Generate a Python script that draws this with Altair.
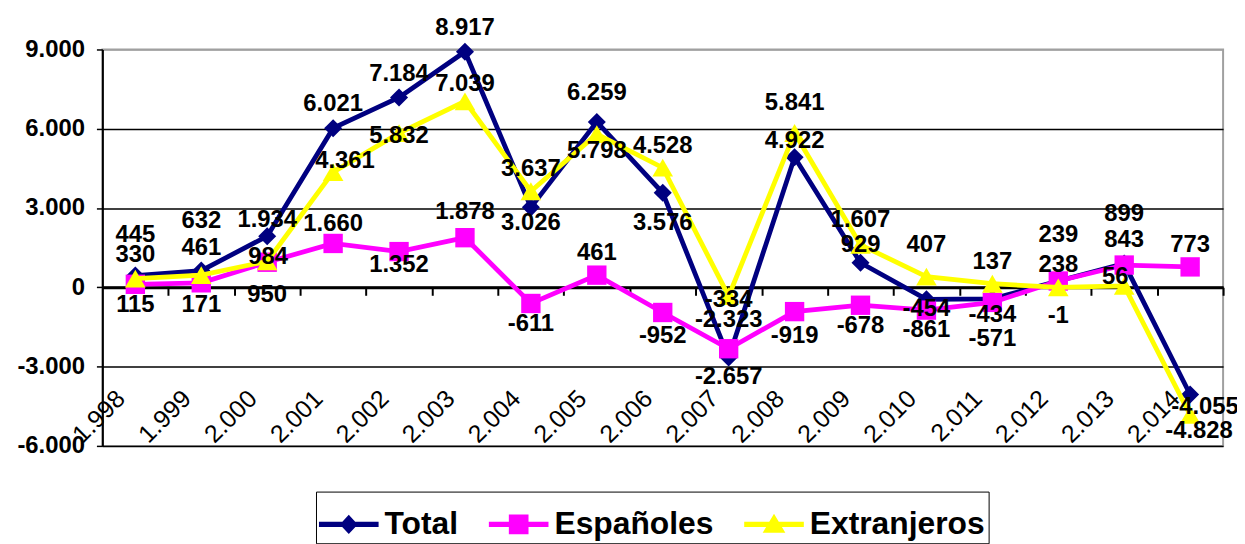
import altair as alt
import pandas as pd

# ---- data ----
anios = ["1.998", "1.999", "2.000", "2.001", "2.002", "2.003", "2.004", "2.005", "2.006",
         "2.007", "2.008", "2.009", "2.010", "2.011", "2.012", "2.013", "2.014"]
series = ["Total", "Españoles", "Extranjeros"]
total = [445, 632, 1934, 6021, 7184, 8917, 3026, 6259, 3576, -2657, 4922, 929, -454, -434, 238, 899, -4055]
espanoles = [115, 171, 950, 1660, 1352, 1878, -611, 461, -952, -2323, -919, -678, -861, -571, 239, 843, 773]
extranjeros = [330, 461, 984, 4361, 5832, 7039, 3637, 5798, 4528, -334, 5841, 1607, 407, 137, -1, 56, -4828]
y_ticks = [-6000, -3000, 0, 3000, 6000, 9000]

# ---- layout of the value labels (pixel offsets from each point) ----
lab_dy = {
    "Total":       [-41, -50, -16, -24, -24, -24, 16, -29, 30, 20, -16, -18, 10, 16, -16, -50, 13],
    "Españoles":   [21, 22, 33, -20, 14, -26, 21, -22, 24, -29, 25, 21, 20, 37, -46, -25, -22],
    "Extranjeros": [-24, -27, -4, -11, 3, -17, -22, 17, -22, 4, -30, -25, -32, -22, 29, -9, 16],
}
lab_dx = {
    "Total":       [0] * 16 + [15],
    "Españoles":   [0] * 17,
    "Extranjeros": [0, 0, 1, 12, 0, 0, 0, 0, 0, 0, 0, 0, 0, 0, 0, -9, 9],
}

colors = ["#000080", "#FF00FF", "#FFFF00"]
marker = {"Total": ("diamond", 330), "Españoles": ("square", 380), "Extranjeros": ("triangle-up", 430)}
legend_paths = [
    "M-1,-0.085H1V0.085H-1Z M0,-0.32L0.3,0L0,0.32L-0.3,0Z",
    "M-1,-0.085H1V0.085H-1Z M-0.33,-0.33H0.33V0.33H-0.33Z",
    "M-1,-0.085H1V0.085H-1Z M0,-0.36L0.38,0.28H-0.38Z",
]

W, H = 1128, 399
YMIN, YMAX = -6000, 9000
FONT = "Liberation Sans"

rows = []
for s, vals in zip(series, [total, espanoles, extranjeros]):
    for i, (a, v) in enumerate(zip(anios, vals)):
        rows.append({
            "anio": a, "serie": s, "v": v,
            "lab": f"{v:,}".replace(",", "."),
            "dx": lab_dx[s][i], "dy": lab_dy[s][i],
        })
df = pd.DataFrame(rows)

step = W / len(anios)
zero_off = H * (0 - YMIN) / (YMAX - YMIN)
units_per_px = (YMAX - YMIN) / H

x_scale = alt.Scale(type="point", padding=0.5)
y_scale = alt.Scale(domain=[YMIN, YMAX], nice=False, zero=False)

label_axis = alt.Axis(
    orient="bottom", labelAngle=-45, labelAlign="right", labelBaseline="middle",
    labelPadding=-52, labelOffset=-15, ticks=False, domain=False, grid=False,
    labelFont=FONT, labelFontSize=25, labelColor="black", labelOverlap=False, title=None,
)
zero_axis = alt.Axis(
    orient="bottom", offset=-zero_off, labels=False, domain=True, domainColor="black",
    domainWidth=3, ticks=True, tickColor="black", tickWidth=2, tickSize=8,
    tickOffset=step / 2, grid=False, title=None,
)
y_axis = alt.Axis(
    values=y_ticks,
    labelExpr="replace(replace(format(datum.value, ','), ',', '.'), '\u2212', '-')",
    grid=True,
    gridColor=alt.condition("datum.value == 9000", alt.value("#a0a0a0"), alt.value("black")),
    gridWidth=1.5, domain=True, domainColor="black", domainWidth=2,
    ticks=True, tickColor="black", tickSize=6, tickWidth=1.5,
    labelFont=FONT, labelFontSize=24, labelFontWeight="bold", labelColor="black",
    labelPadding=12, title=None,
)


def xenc(axis=None):
    return alt.X("anio:N", sort=anios, scale=x_scale, axis=axis, title=None)


def yenc(field="v"):
    return alt.Y(f"{field}:Q", scale=y_scale, axis=y_axis, title=None)


base = alt.Chart(df)
layers = []
for k, (s, c) in enumerate(zip(series, colors)):
    sub = base.transform_filter(alt.datum.serie == s)
    layers.append(
        sub.mark_line(color=c, strokeWidth=4.8).encode(
            x=xenc(label_axis if k == 0 else None), y=yenc()
        )
    )
    shp, sz = marker[s]
    layers.append(
        sub.mark_point(shape=shp, size=sz, filled=True, color=c, opacity=1).encode(
            x=xenc(zero_axis if k == 0 else None), y=yenc()
        )
    )

leg = alt.Legend(
    orient="none", legendX=215, legendY=445, direction="horizontal", title=None,
    strokeColor="black", fillColor="white", padding=3,
    symbolSize=3600, symbolStrokeWidth=0, symbolOpacity=1,
    labelFont=FONT, labelFontSize=32, labelFontWeight="bold", labelColor="black",
    labelOffset=6, columnPadding=30, labelLimit=400,
)
legend_layer = base.mark_point(filled=True, opacity=0).encode(
    x=xenc(), y=yenc(),
    color=alt.Color("serie:N", scale=alt.Scale(domain=series, range=colors), legend=leg),
    shape=alt.Shape("serie:N", scale=alt.Scale(domain=series, range=legend_paths), legend=leg),
)
layers.append(legend_layer)

# value labels: vertical offset converted through the y scale, horizontal nudge per group
for d in sorted(df["dx"].unique()):
    layers.append(
        base.transform_filter(alt.datum.dx == int(d))
        .transform_calculate(ylab=f"datum.v - datum.dy * {units_per_px}")
        .mark_text(font=FONT, fontSize=24, fontWeight="bold", color="black", dx=int(d))
        .encode(x=xenc(), y=yenc("ylab"), text="lab:N")
    )

chart = (
    alt.layer(*layers)
    .resolve_axis(x="independent")
    .properties(
        width=W, height=H,
        autosize=alt.AutoSizeParams(type="none"),
        padding={"left": 95, "top": 40, "right": 14, "bottom": 97},
        background="white",
    )
    .configure_view(stroke="#a0a0a0", strokeWidth=2)
)

chart.save("out.html", embed_options={"renderer": "svg", "actions": False})
